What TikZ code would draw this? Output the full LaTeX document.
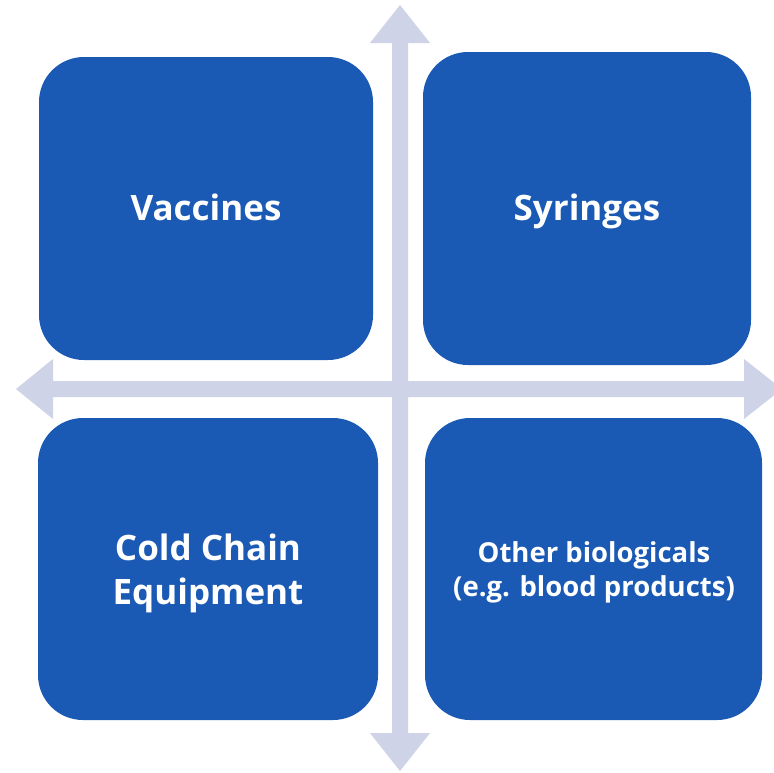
\documentclass[tikz,border=0pt]{standalone}
\usepackage{fontspec}
\setmainfont{Open Sans}
\definecolor{boxblue}{RGB}{26,89,180}
\definecolor{arrowgrey}{RGB}{206,211,231}
\tikzset{
  quad/.style={fill=boxblue, rounded corners=45pt},
  quadtext/.style={text=white, font=\bfseries\fontsize{35}{44}\selectfont, align=center},
  quadsmall/.style={text=white, font=\bfseries\fontsize{27.5}{34}\selectfont, align=center},
  axis/.style={fill=arrowgrey}
}
\begin{document}
\begin{tikzpicture}[x=1pt,y=-1pt]
\useasboundingbox (0,0) rectangle (774,772);
\clip (0,0) rectangle (774,772);
% boxes
\fill[quad] (39,57) rectangle (373,360);
\fill[quad] (423,52) rectangle (751,365);
\fill[quad] (38,418) rectangle (378,720);
\fill[quad] (425,418) rectangle (762,720);
% axes
\fill[axis] (400,5) -- (430,43) -- (408,43) -- (408,733) -- (430,733) -- (400,771)
  -- (370,733) -- (392,733) -- (392,43) -- (370,43) -- cycle;
\fill[axis] (16,389) -- (53,359) -- (53,381) -- (744,381) -- (744,359) -- (782,389)
  -- (744,419) -- (744,397) -- (53,397) -- (53,419) -- cycle;
% labels
\node[quadtext, anchor=base] (vac) at (206,220) {Vaccines};
\node[quadtext, anchor=base] (syr) at (587,220) {Syringes};
\node[quadtext] (cce) at (208,573) {Cold Chain\\Equipment};
\node[quadsmall] (oth) at (594,572.5) {Other biologicals\\(e.g. blood products)};
\end{tikzpicture}
\end{document}
